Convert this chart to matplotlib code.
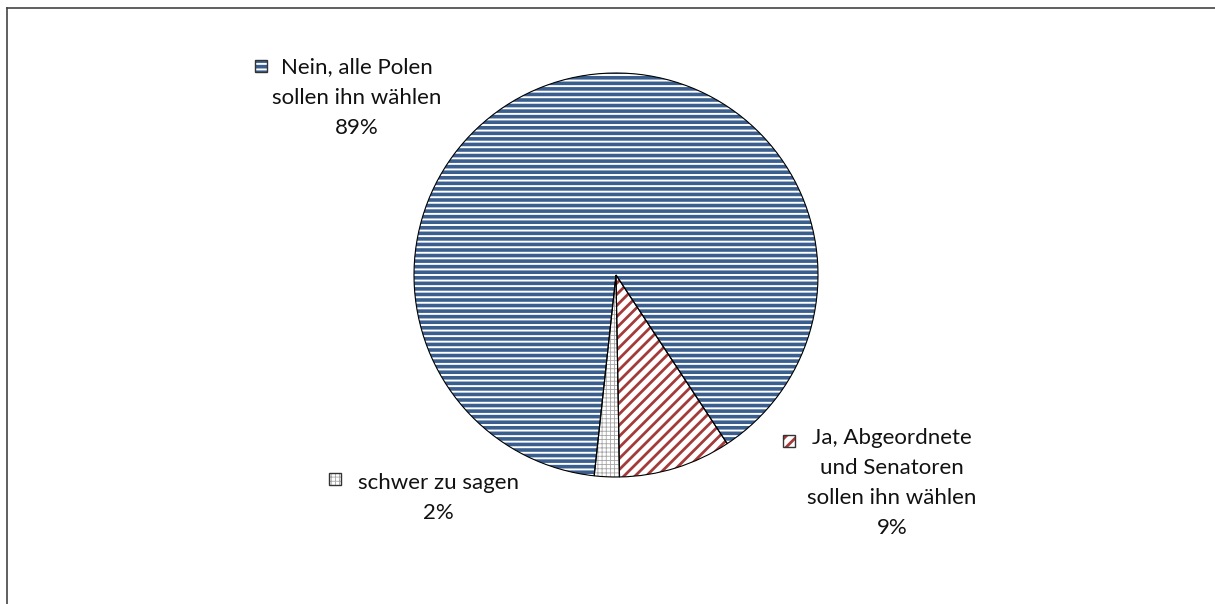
import matplotlib
matplotlib.use('Agg')
import matplotlib.pyplot as plt
from matplotlib.patches import Rectangle

# %% Data
labels = ['Ja, Abgeordnete\nund Senatoren\nsollen ihn wählen',
          'schwer zu sagen',
          'Nein, alle Polen\nsollen ihn wählen']
values = [9, 2, 89]

# %% Style
faces = ['white', 'white', '#3a5f8f']
hatch_cols = ['#a33b3b', '#a6a6a6', 'white']
hatches = ['///', '++++', '---']
hatch_lw = [2.0, 0.6, 1.4]

plt.rcParams['font.family'] = ['Lato', 'DejaVu Sans']
plt.rcParams['hatch.linewidth'] = 1.6

W, H = 1215, 604
fig = plt.figure(figsize=(W / 100, H / 100), dpi=100)

# pie centre (616, 275) px, radius 202 px
cx, cy, r = 616, 275, 202
ax = fig.add_axes([(cx - r) / W, (H - cy - r) / H, 2 * r / W, 2 * r / H])

wedges, _ = ax.pie(values, startangle=-56.6, counterclock=False, radius=1)
for w, fc, hc, h, lw in zip(wedges, faces, hatch_cols, hatches, hatch_lw):
    w.set_facecolor(fc)
    w.set_edgecolor(hc)
    w.set_linewidth(0)
    w.set_hatch(h)
    if hasattr(w, 'set_hatch_linewidth'):
        w.set_hatch_linewidth(lw)

# black outlines on top
ax.pie(values, startangle=-56.6, counterclock=False, radius=1,
       wedgeprops=dict(fill=False, edgecolor='black', linewidth=0.8))
ax.set_xlim(-1, 1)
ax.set_ylim(-1, 1)
ax.set_aspect('equal')
ax.axis('off')


def px(x, y):
    return x / W, 1 - y / H


# data labels: (centre x, centre y of block, key x, key y)
pcts = [f'{v}%' for v in values]
label_pos = [(892, 483, 789, 441), (438, 498, 335, 479), (357, 97.5, 261, 66)]
for lab, pct, (tx, ty, kx, ky), fc, hc, h, lw in zip(labels, pcts, label_pos, faces,
                                                       hatch_cols, hatches, hatch_lw):
    fig.text(*px(tx, ty), lab + '\n' + pct, ha='center', va='center',
             fontsize=16, linespacing=1.63, color='#111111')
    key = Rectangle(px(kx - 6, ky + 6), 12 / W, 12 / H, transform=fig.transFigure,
                    facecolor=fc, edgecolor=hc, hatch=h, linewidth=0)
    if hasattr(key, 'set_hatch_linewidth'):
        key.set_hatch_linewidth(lw)
    fig.patches.append(key)
    fig.patches.append(Rectangle(px(kx - 6, ky + 6), 12 / W, 12 / H, transform=fig.transFigure,
                                 fill=False, edgecolor='#333333', linewidth=1))

# chart frame (only top and left visible)
fig.add_artist(plt.Line2D([7 / W, 1], [1 - 8 / H, 1 - 8 / H], transform=fig.transFigure,
                          color='#444444', linewidth=1.2))
fig.add_artist(plt.Line2D([7 / W, 7 / W], [0, 1 - 8 / H], transform=fig.transFigure,
                          color='#444444', linewidth=1.2))

fig.savefig('out.png', dpi=100)
